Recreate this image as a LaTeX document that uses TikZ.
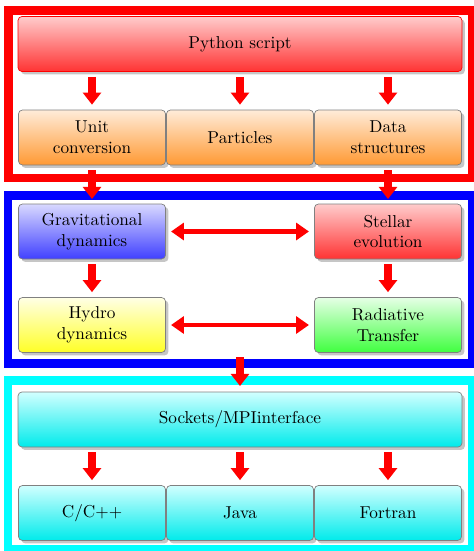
\documentclass[tikz,border=0pt]{standalone}
\usepackage{tikz}
\usetikzlibrary{arrows.meta, shadows, calc}

\definecolor{aqua}{RGB}{0,255,255}
\tikzset{
	layerframe/.style={line width=5.2pt},
	modbox/.style={draw=gray, rounded corners=2.3pt, align=center, inner sep=2pt,
		minimum width=85.3pt, minimum height=31.9pt,
		drop shadow={shadow xshift=1.7pt, shadow yshift=-1.7pt, opacity=.45}},
	widebox/.style={modbox, minimum width=257.5pt},
	bigarrow/.style={red, line width=5.2pt, -{Triangle[length=7pt, width=10.4pt]},
		shorten <=2.9pt, shorten >=2.9pt},
	swaparrow/.style={red, line width=2.8pt,
		{Triangle[length=7.5pt, width=9.9pt]}-{Triangle[length=7.5pt, width=9.9pt]},
		shorten <=3pt, shorten >=3pt}
}

\begin{document}
\begin{tikzpicture}[x=0.58pt, y=-0.58pt]
	\useasboundingbox (0,0) rectangle (473,551);
	% the three layers
	\draw[layerframe, red] (8.5,10.5) rectangle (472.5,178);
	\draw[layerframe, blue] (8,195.5) rectangle (472.5,363.5);
	\draw[layerframe, aqua] (8,380.5) rectangle (472.5,549.5);
	\coordinate (bluein) at (240,199);
	\coordinate (blueout) at (240,357);
	\coordinate (cyanin) at (240,386);

	% python layer
	\node[widebox, draw=red, top color=red!20, bottom color=red!80, drop shadow={opacity=0}] (python) at (240,44) {Python script};
	\node[modbox, top color=orange!15, bottom color=orange!80] (unit) at (92,137.5) {Unit\\conversion};
	\node[modbox, top color=orange!15, bottom color=orange!80] (particles) at (240,137.5) {Particles};
	\node[modbox, top color=orange!15, bottom color=orange!80] (data) at (388,137.5) {Data\\structures};

	% physics layer
	\node[modbox, top color=blue!15, bottom color=blue!75] (grav) at (92,231.5) {Gravitational\\dynamics};
	\node[modbox, top color=red!20, bottom color=red!80] (stellar) at (388,231.5) {Stellar\\evolution};
	\node[modbox, top color=yellow!10, bottom color=yellow!85] (hydro) at (92,325) {Hydro\\dynamics};
	\node[modbox, top color=green!10, bottom color=green!75] (radiative) at (388,325) {Radiative\\Transfer};

	% interface layer
	\node[widebox, top color=aqua!18, bottom color=aqua!92!black] (sockets) at (240,419.5) {Sockets/MPIinterface};
	\node[modbox, top color=aqua!18, bottom color=aqua!92!black] (cpp) at (92,513) {C/C++};
	\node[modbox, top color=aqua!18, bottom color=aqua!92!black] (java) at (240,513) {Java};
	\node[modbox, top color=aqua!18, bottom color=aqua!92!black] (fortran) at (388,513) {Fortran};

	% arrows
	\draw[bigarrow] (python.south -| unit) -- (unit);
	\draw[bigarrow] (python.south -| particles) -- (particles);
	\draw[bigarrow] (python.south -| data) -- (data);
	\draw[bigarrow, shorten >=0pt] (unit) -- (unit |- bluein);
	\draw[bigarrow, shorten >=0pt] (data) -- (data |- bluein);
	\draw[bigarrow] (grav) -- (hydro);
	\draw[bigarrow] (stellar) -- (radiative);
	\draw[swaparrow] (grav) -- (stellar);
	\draw[swaparrow] (hydro) -- (radiative);
	\draw[bigarrow, shorten <=0pt, shorten >=0pt] (blueout) -- (cyanin);
	\draw[bigarrow] (sockets.south -| cpp) -- (cpp);
	\draw[bigarrow] (sockets.south -| java) -- (java);
	\draw[bigarrow] (sockets.south -| fortran) -- (fortran);
\end{tikzpicture}
\end{document}
